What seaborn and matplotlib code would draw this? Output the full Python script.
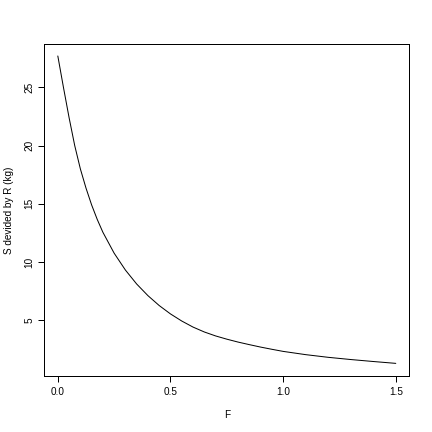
import pandas as pd
import matplotlib
matplotlib.use("Agg")
import matplotlib.pyplot as plt
import seaborn as sns

# values
f_vals = [0.0, 0.025, 0.05, 0.075, 0.1, 0.125, 0.15, 0.175, 0.2, 0.25,
          0.3, 0.35, 0.4, 0.45, 0.5, 0.55, 0.6, 0.65, 0.7, 0.75,
          0.8, 0.85, 0.9, 0.95, 1.0, 1.1, 1.2, 1.3, 1.4, 1.5]
s_over_r = [27.7, 25.0, 22.4, 20.0, 18.0, 16.35, 14.9, 13.65, 12.55, 10.75,
            9.3, 8.1, 7.1, 6.25, 5.53, 4.92, 4.4, 3.98, 3.64, 3.36,
            3.11, 2.89, 2.68, 2.49, 2.31, 2.03, 1.80, 1.61, 1.44, 1.28]
x_ticks = [0.0, 0.5, 1.0, 1.5]
x_tick_labels = ["0.0", "0.5", "1.0", "1.5"]
y_ticks = [5, 10, 15, 20, 25]

df = pd.DataFrame({"F": f_vals, "SR": s_over_r})

sns.set_theme(style="white")
plt.rcParams["font.family"] = ["Liberation Sans", "DejaVu Sans"]

fig = plt.figure(figsize=(6, 6), dpi=72)
ax = fig.add_axes([44.3 / 432, 1 - 375.7 / 432, 365 / 432, 331.7 / 432])

sns.lineplot(data=df, x="F", y="SR", color="black", lw=1, ax=ax)

ax.set_xlim(-0.06, 1.56)
ax.set_ylim(0.22, 28.73)
ax.set_xticks(x_ticks)
ax.set_xticklabels(x_tick_labels)
ax.set_yticks(y_ticks)
ax.set_yticklabels([str(v) for v in y_ticks], rotation=90, va="center")
ax.tick_params(axis="both", direction="out", length=6, width=1, color="black",
               labelsize=10, labelcolor="black", bottom=True, left=True)
ax.tick_params(axis="x", pad=5)
ax.tick_params(axis="y", pad=4)

for s in ax.spines.values():
    s.set_visible(True)
    s.set_color("black")
    s.set_linewidth(1)

ax.set_xlabel("F", fontsize=10, color="black")
ax.xaxis.label.set_va("center")
ax.xaxis.set_label_coords(0.5, -39 / 331.7)
ax.set_ylabel("S devided by R (kg)", fontsize=10, color="black")
ax.yaxis.label.set_va("center")
ax.yaxis.set_label_coords(-34.8 / 365, 0.5)
ax.grid(False)

fig.savefig("out.png", dpi=72)
